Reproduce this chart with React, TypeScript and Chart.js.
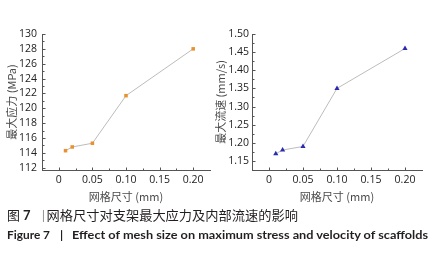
import React, { useEffect, useRef } from "react";
import { Chart, registerables } from "chart.js";

Chart.register(...registerables);

// ---- data ----
const meshSize = [0.01, 0.02, 0.05, 0.1, 0.2];
const maxStress = [114.3, 114.8, 115.3, 121.7, 128.0];
const maxVelocity = [1.17, 1.18, 1.19, 1.35, 1.46];

const xTickValues = [0, 0.05, 0.1, 0.15, 0.2];
const xTickLabels = ["0", "0.05", "0.10", "0.15", "0.20"];
const xMinorTicks = [0.025, 0.075, 0.125, 0.175];

const stressTicks = [112, 114, 116, 118, 120, 122, 124, 126, 128, 130];
const stressTickLabels = ["112", "114", "116", "118", "120", "122", "124", "126", "128", "130"];
const stressMinorTicks = [113, 115, 117, 119, 121, 123, 125, 127, 129];

const velocityTicks = [1.15, 1.2, 1.25, 1.3, 1.35, 1.4, 1.45, 1.5];
const velocityTickLabels = ["1.15", "1.20", "1.25", "1.30", "1.35", "1.40", "1.45", "1.50"];
const velocityMinorTicks = [1.175, 1.225, 1.275, 1.325, 1.375, 1.425, 1.475];

const xTitle = "网格尺寸 (mm)";
const stressTitle = "最大应力 (MPa)";
const velocityTitle = "最大流速 (mm/s)";

const tickPlugin = {
  id: "customTicks",
  afterDraw(chart: any) {
    const cfg = chart.options.plugins.customTicks;
    if (!cfg) return;
    const { ctx, chartArea } = chart;
    const xs = chart.scales.x;
    const ys = chart.scales.y;
    ctx.save();
    ctx.strokeStyle = "#555";
    ctx.lineWidth = 1;
    ctx.beginPath();
    const xl = Math.round(chartArea.left) + 0.5;
    const yb = Math.round(chartArea.bottom) + 0.5;
    cfg.xMajor.forEach((v: number) => {
      const px = Math.round(xs.getPixelForValue(v)) + 0.5;
      ctx.moveTo(px, yb);
      ctx.lineTo(px, yb - 3);
    });
    cfg.xMinor.forEach((v: number) => {
      const px = Math.round(xs.getPixelForValue(v)) + 0.5;
      ctx.moveTo(px, yb);
      ctx.lineTo(px, yb - 2);
    });
    cfg.yMajor.forEach((v: number) => {
      const py = Math.round(ys.getPixelForValue(v)) + 0.5;
      ctx.moveTo(xl, py);
      ctx.lineTo(xl + 3, py);
    });
    cfg.yMinor.forEach((v: number) => {
      const py = Math.round(ys.getPixelForValue(v)) + 0.5;
      ctx.moveTo(xl, py);
      ctx.lineTo(xl + 2, py);
    });
    ctx.stroke();
    ctx.restore();
  },
};

type PanelProps = {
  values: number[];
  yMin: number;
  yMax: number;
  yTicks: number[];
  yTickLabels: string[];
  yMinor: number[];
  yTitle: string;
  color: string;
  pointStyle: string;
  pointRadius: number;
  yWidth: number;
  padRight: number;
  yTickPad: number;
  yTitlePad: number;
  left: number;
};

function Panel(p: PanelProps) {
  const ref = useRef<HTMLCanvasElement | null>(null);
  useEffect(() => {
    if (!ref.current) return;
    const chart = new Chart(ref.current, {
      type: "line",
      data: {
        datasets: [
          {
            data: meshSize.map((x, i) => ({ x, y: p.values[i] })),
            borderColor: "#bcbcbc",
            borderWidth: 1,
            pointStyle: p.pointStyle as any,
            pointRadius: p.pointRadius,
            pointBackgroundColor: p.color,
            pointBorderColor: p.color,
            pointBorderWidth: 0,
            tension: 0,
          },
        ],
      },
      options: {
        responsive: false,
        animation: false,
        layout: { padding: { left: 0, right: p.padRight, top: 34, bottom: 0 } },
        plugins: {
          legend: { display: false },
          tooltip: { enabled: false },
          customTicks: {
            xMajor: xTickValues,
            xMinor: xMinorTicks,
            yMajor: p.yTicks,
            yMinor: p.yMinor,
          },
        } as any,
        scales: {
          x: {
            type: "linear",
            min: -0.025,
            max: 0.225,
            grid: { display: false, drawTicks: false },
            border: { display: true, color: "#555", width: 1 },
            afterBuildTicks: (s: any) => {
              s.ticks = xTickValues.map((v) => ({ value: v }));
            },
            afterFit: (s: any) => {
              s.height = 40;
            },
            ticks: {
              autoSkip: false,
              maxRotation: 0,
              padding: 4,
              color: "#222",
              font: { family: "'Open Sans', sans-serif", size: 10.5 },
              callback: (_v: any, i: number) => xTickLabels[i],
            },
            title: {
              display: true,
              text: xTitle,
              color: "#4a4a4a",
              font: { family: "'Noto Sans CJK SC', sans-serif", size: 11, lineHeight: 1 },
              padding: { top: 0, bottom: 8 },
            },
          },
          y: {
            type: "linear",
            min: p.yMin,
            max: p.yMax,
            grid: { display: false, drawTicks: false },
            border: { display: true, color: "#555", width: 1 },
            afterBuildTicks: (s: any) => {
              s.ticks = p.yTicks.map((v) => ({ value: v }));
            },
            afterFit: (s: any) => {
              s.width = p.yWidth;
            },
            ticks: {
              autoSkip: false,
              padding: p.yTickPad,
              color: "#222",
              font: { family: "'Open Sans', sans-serif", size: 10.5 },
              callback: (_v: any, i: number) => p.yTickLabels[i],
            },
            title: {
              display: true,
              text: p.yTitle,
              color: "#4a4a4a",
              font: { family: "'Noto Sans CJK SC', sans-serif", size: 11, lineHeight: 1 },
              padding: { top: p.yTitlePad, bottom: 0 },
            },
          },
        },
      },
      plugins: [tickPlugin as any],
    });
    return () => chart.destroy();
  }, []);
  return (
    <canvas
      ref={ref}
      width={215}
      height={210}
      style={{ position: "absolute", left: p.left, top: 0, width: 215, height: 210 }}
    />
  );
}

export default function App() {
  useEffect(() => {
    document.body.style.margin = "0";
  }, []);
  return (
    <div style={{ position: "relative", width: 430, height: 254, background: "#fff", overflow: "hidden" }}>
      <Panel
        values={maxStress}
        yMin={111.7}
        yMax={130}
        yTicks={stressTicks}
        yTickLabels={stressTickLabels}
        yMinor={stressMinorTicks}
        yTitle={stressTitle}
        color="#e8912d"
        pointStyle="rect"
        pointRadius={2.5}
        yWidth={42}
        padRight={5}
        yTickPad={5}
        yTitlePad={6}
        left={0}
      />
      <Panel
        values={maxVelocity}
        yMin={1.125}
        yMax={1.5}
        yTicks={velocityTicks}
        yTickLabels={velocityTickLabels}
        yMinor={velocityMinorTicks}
        yTitle={velocityTitle}
        color="#2b2bb0"
        pointStyle="triangle"
        pointRadius={3}
        yWidth={37}
        padRight={8}
        yTickPad={3}
        yTitlePad={0}
        left={215}
      />
      <svg
        width={430}
        height={254}
        style={{ position: "absolute", left: 0, top: 0, pointerEvents: "none" }}
      >
        <g fill="#231f20" fontFamily="'Noto Sans CJK SC', sans-serif" fontSize={13}>
          <text x={7} y={220}>图</text>
          <text x={23} y={220} fontWeight="bold" fontFamily="Lato, sans-serif">7</text>
          <text x={37} y={220} fill="#999">丨</text>
          <text x={46.5} y={220} textLength={251.5} lengthAdjust="spacingAndGlyphs">网格尺寸对支架最大应力及内部流速的影响</text>
        </g>
        <g fill="#231f20" fontFamily="Lato, sans-serif" fontWeight="bold" fontSize={12}>
          <text x={7} y={238.5} textLength={43} lengthAdjust="spacingAndGlyphs">Figure 7</text>
          <text x={60} y={238.5}>|</text>
          <text x={72} y={238.5} textLength={356} lengthAdjust="spacingAndGlyphs">Effect of mesh size on maximum stress and velocity of scaffolds</text>
        </g>
      </svg>
    </div>
  );
}
